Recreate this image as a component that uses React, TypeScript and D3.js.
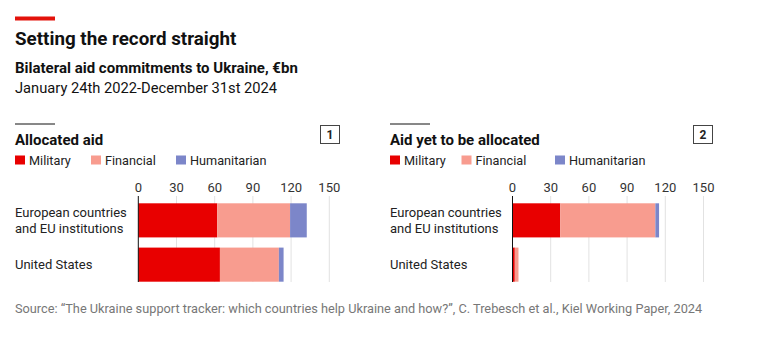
import React from "react";
import * as d3 from "d3";

const categories = ["European countries\nand EU institutions", "United States"];
const seriesNames = ["Military", "Financial", "Humanitarian"];
const allocatedMilitary = [62.0, 64.1];
const allocatedFinancial = [57.2, 46.3];
const allocatedHumanitarian = [13.1, 3.7];
const pendingMilitary = [37.5, 1.8];
const pendingFinancial = [74.7, 2.9];
const pendingHumanitarian = [2.9, 0];
const tickValues = [0, 30, 60, 90, 120, 150];
const colors = ["#e80000", "#f89c8f", "#7c86c9"];
const FONT = "Roboto, 'Liberation Sans', Arial, sans-serif";

type PanelProps = {
  x0: number;
  title: string;
  num: string;
  boxX: number;
  legendX: number[];
  data: number[][];
  axisX: number;
};

function Panel({ x0, title, num, boxX, legendX, data, axisX }: PanelProps) {
  const x = d3.scaleLinear().domain([0, 150]).range([axisX, axisX + 191]);
  const y = d3.scaleBand<string>().domain(categories).range([203.3, 281.7]).paddingInner(0.23).paddingOuter(0);
  const rows = categories.map((c, i) => ({ c, vals: data.map((s) => s[i]) }));
  const stack = d3.stack<any>().keys(["0", "1", "2"]).value((d, k) => d.vals[+k]);
  const stacked = stack(rows);
  return (
    <g>
      <line x1={x0} x2={x0 + 40} y1={124} y2={124} stroke="#111" strokeWidth={1} />
      <text x={x0} y={144.5} fontSize={15} fontWeight={700} fill="#111" fontFamily={FONT}>{title}</text>
      <rect x={boxX + 0.5} y={125.5} width={19} height={18} fill="none" stroke="#444" strokeWidth={1} />
      <text x={boxX + 10} y={139} fontSize={12} fontWeight={700} textAnchor="middle" fill="#222" fontFamily={FONT}>{num}</text>
      {seriesNames.map((s, i) => (
        <g key={s}>
          <rect x={legendX[i]} y={155.5} width={10} height={9} fill={colors[i]} />
          <text x={legendX[i] + 14} y={165} fontSize={12.7} fill="#222" fontFamily={FONT}>{s}</text>
        </g>
      ))}
      {tickValues.map((t) => (
        <g key={t}>
          {t > 0 && <line x1={x(t)} x2={x(t)} y1={196} y2={282} stroke="#e2e2e2" strokeWidth={1} />}
          <text x={x(t)} y={192} fontSize={13} textAnchor="middle" fill="#333" fontFamily={FONT}>{t}</text>
        </g>
      ))}
      {stacked.map((layer, si) =>
        layer.map((d, i) => (
          <rect key={si + "-" + i} x={x(d[0])} y={y(categories[i])} width={Math.max(0, x(d[1]) - x(d[0]))} height={y.bandwidth()} fill={colors[si]} />
        ))
      )}
      <line x1={x(0)} x2={x(0)} y1={196} y2={282} stroke="#111" strokeWidth={1} />
      {categories.map((c) => {
        const lines = c.split("\n");
        const cy = (y(c) as number) + y.bandwidth() / 2;
        return (
          <text key={c} fontSize={13} fill="#222" fontFamily={FONT}>
            {lines.map((l, li) => (
              <tspan key={li} x={x0} y={cy + 4.5 + (li - (lines.length - 1) / 2) * 15.5}>{l}</tspan>
            ))}
          </text>
        );
      })}
    </g>
  );
}

export default function App() {
  return (
    <svg width={758} height={338} style={{ position: "absolute", left: 0, top: 0, background: "#fff" }}>
      <rect x={0} y={0} width={758} height={338} fill="#fff" />
      <rect x={15} y={16.5} width={40} height={4} fill="#e3120b" />
      <text x={15} y={44.5} fontSize={18.8} fontWeight={700} fill="#111" fontFamily={FONT}>Setting the record straight</text>
      <text x={15} y={73} fontSize={15} fontWeight={700} fill="#111" fontFamily={FONT}>Bilateral aid commitments to Ukraine, €bn</text>
      <text x={15} y={92.5} fontSize={14.7} fill="#111" fontFamily={FONT}>January 24th 2022-December 31st 2024</text>
      <Panel x0={15} title="Allocated aid" num="1" boxX={320} legendX={[15, 91, 176]} axisX={138.3}
        data={[allocatedMilitary, allocatedFinancial, allocatedHumanitarian]} />
      <Panel x0={390} title="Aid yet to be allocated" num="2" boxX={693} legendX={[390, 461.5, 555]} axisX={512.5}
        data={[pendingMilitary, pendingFinancial, pendingHumanitarian]} />
      <text x={15} y={313} fontSize={12.76} fill="#777" fontFamily={FONT}>
        Source: “The Ukraine support tracker: which countries help Ukraine and how?”, C. Trebesch et al., Kiel Working Paper, 2024
      </text>
    </svg>
  );
}
